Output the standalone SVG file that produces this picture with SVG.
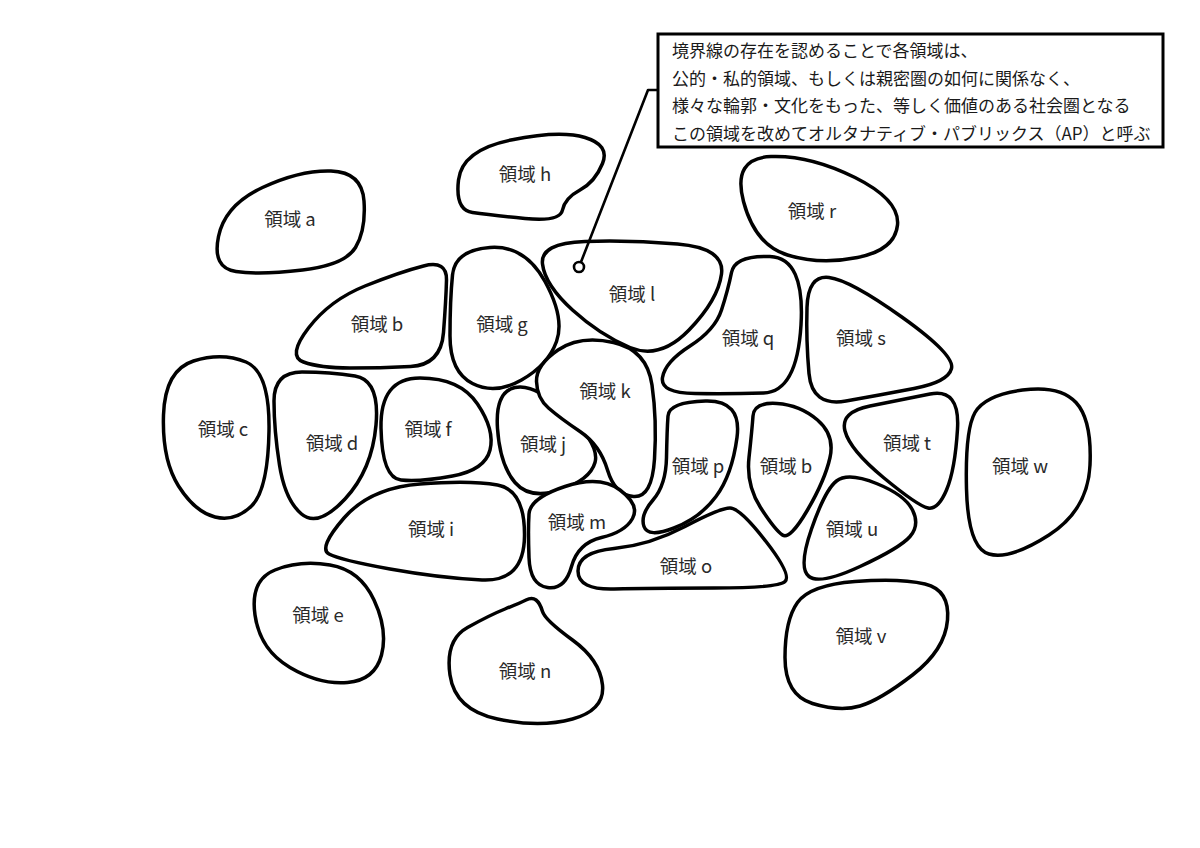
<svg xmlns="http://www.w3.org/2000/svg" width="1200" height="848" viewBox="0 0 1200 848">
<style>
.blob{fill:#fff;stroke:#000;stroke-width:3.5;stroke-linejoin:round}
.lbl{font-family:"Noto Sans CJK JP","Noto Sans",sans-serif;font-size:18.5px;fill:#2a2a2a;text-anchor:middle}
.note{font-family:"Noto Sans CJK JP","Noto Sans",sans-serif;font-size:17px;fill:#1a1a1a}
.conn{fill:none;stroke:#000;stroke-width:2.6;stroke-linejoin:round}
</style>
<rect width="1200" height="848" fill="#fff"/>
<g id="region-a"><path class="blob" d="M 218.5,236.5 Q 225,205 262.5,187.5 Q 300,170 331,171 Q 362,172 364,201 Q 366,230 355.5,247.5 Q 345,265 302.5,270 Q 260,275 236,271.5 Q 212,268 218.5,236.5 Z"/><text class="lbl" x="290" y="226">領域 a</text></g>
<g id="region-h"><path class="blob" d="M 458.5,180 Q 462,150 511,140 Q 560,130 585,137.5 Q 610,145 602.5,163.5 Q 595,182 580,190 Q 565,198 562.5,210 Q 560,222 525,218.5 Q 490,215 472.5,212.5 Q 455,210 458.5,180 Z"/><text class="lbl" x="525" y="181">領域 h</text></g>
<g id="region-r"><path class="blob" d="M 771,156.5 Q 810,155 855,177.5 Q 900,200 897.5,225 Q 895,250 857.5,257.5 Q 820,265 787.5,255 Q 755,245 743.5,201.5 Q 732,158 771,156.5 Z"/><text class="lbl" x="812" y="218">領域 r</text></g>
<g id="region-b1"><path class="blob" d="M 308.5,328 Q 330,300 365,286 Q 400,272 423.5,266 Q 447,260 446.5,280 Q 446,300 443.5,332.5 Q 441,365 410.5,366.5 Q 380,368 350,368 Q 320,368 303.5,362 Q 287,356 308.5,328 Z"/><text class="lbl" x="377" y="331">領域 b</text></g>
<g id="region-g"><path class="blob" d="M 490,247.5 Q 525,245 545,281.5 Q 565,318 556.5,341.5 Q 548,365 521.5,380 Q 495,395 472.5,383.5 Q 450,372 450,336 Q 450,300 452.5,275 Q 455,250 490,247.5 Z"/><text class="lbl" x="502" y="331">領域 g</text></g>
<g id="region-l"><path class="blob" d="M 585,241.5 Q 630,240 677.5,244 Q 725,248 721.5,274 Q 718,300 689,330 Q 660,360 630,347.5 Q 600,335 572.5,310 Q 545,285 542.5,264 Q 540,243 585,241.5 Z"/><text class="lbl" x="632" y="301">領域 l</text></g>
<g id="region-q"><path class="blob" d="M 770,256.5 Q 805,258 801,325 Q 797,392 763.5,393 Q 730,394 695,393.5 Q 660,393 662.5,377.5 Q 665,362 690,346 Q 715,330 721.5,310 Q 728,290 731.5,272.5 Q 735,255 770,256.5 Z"/><text class="lbl" x="748" y="345">領域 q</text></g>
<g id="region-s"><path class="blob" d="M 829,277.5 Q 850,280 902.5,317.5 Q 955,355 951.5,368.5 Q 948,382 914,388.5 Q 880,395 846,401 Q 812,407 809,373.5 Q 806,340 807,307.5 Q 808,275 829,277.5 Z"/><text class="lbl" x="861" y="345">領域 s</text></g>
<g id="region-c"><path class="blob" d="M 193.5,361 Q 222,352 246,362 Q 270,372 269,431 Q 268,490 251.5,506 Q 235,522 215,517 Q 195,512 178.5,486 Q 162,460 163.5,415 Q 165,370 193.5,361 Z"/><text class="lbl" x="223" y="436">領域 c</text></g>
<g id="region-d"><path class="blob" d="M 302,372 Q 330,372 355,376 Q 380,380 376,425 Q 372,470 345,499 Q 318,528 301.5,514 Q 285,500 279.5,465 Q 274,430 274,401 Q 274,372 302,372 Z"/><text class="lbl" x="332" y="450">領域 d</text></g>
<g id="region-f"><path class="blob" d="M 420,378 Q 460,378 477.5,404 Q 495,430 490,450 Q 485,470 452.5,476 Q 420,482 401,480 Q 382,478 381,428 Q 380,378 420,378 Z"/><text class="lbl" x="428" y="436">領域 f</text></g>
<g id="region-i"><path class="blob" d="M 344,518 Q 370,488 420,484 Q 470,480 497.5,485 Q 525,490 524.5,536 Q 524,582 482,580 Q 440,578 390,569 Q 340,560 329,554 Q 318,548 344,518 Z"/><text class="lbl" x="431" y="536">領域 i</text></g>
<g id="region-j"><path class="blob" d="M 515,387.5 Q 535,383 567.5,414 Q 600,445 595,462.5 Q 590,480 560,490 Q 530,500 515,482.5 Q 500,465 497.5,428.5 Q 495,392 515,387.5 Z"/><text class="lbl" x="543" y="451">領域 j</text></g>
<g id="region-k"><path class="blob" d="M 558,350 Q 580,335 613.5,342.5 Q 647,350 652,385 Q 657,420 654.5,459 Q 652,498 633.5,496.5 Q 615,495 607.5,470 Q 600,445 580,431.5 Q 560,418 548.5,408 Q 537,398 536.5,381.5 Q 536,365 558,350 Z"/><text class="lbl" x="605" y="398">領域 k</text></g>
<g id="region-m"><path class="blob" d="M 565,486.5 Q 600,475 620,490 Q 640,505 632.5,518.5 Q 625,532 601.5,537.5 Q 578,543 571.5,566.5 Q 565,590 547.5,587.5 Q 530,585 529,557.5 Q 528,530 529,514 Q 530,498 565,486.5 Z"/><text class="lbl" x="577" y="529">領域 m</text></g>
<g id="region-o"><path class="blob" d="M 614,548.5 Q 650,545 685,526.5 Q 720,508 730,508 Q 740,508 766,541.5 Q 792,575 785,581.5 Q 778,588 714,588 Q 650,588 614,589 Q 578,590 578,571 Q 578,552 614,548.5 Z"/><text class="lbl" x="686" y="573">領域 o</text></g>
<g id="region-p"><path class="blob" d="M 705.5,401 Q 742,400 737,437.5 Q 732,475 716,496.5 Q 700,518 674,528 Q 648,538 644,526.5 Q 640,515 653,500 Q 666,485 666.5,457.5 Q 667,430 668,416 Q 669,402 705.5,401 Z"/><text class="lbl" x="698" y="473">領域 p</text></g>
<g id="region-b2"><path class="blob" d="M 777,403.5 Q 800,405 817.5,420 Q 835,435 830,457.5 Q 825,480 807.5,510 Q 790,540 782.5,535 Q 775,530 760.5,507.5 Q 746,485 749,457.5 Q 752,430 753,416 Q 754,402 777,403.5 Z"/><text class="lbl" x="786" y="473">領域 b</text></g>
<g id="region-t"><path class="blob" d="M 870,406 Q 900,400 930,394 Q 960,388 957.5,429 Q 955,470 946.5,490 Q 938,510 928,508 Q 918,506 884,478 Q 850,450 845,431 Q 840,412 870,406 Z"/><text class="lbl" x="907" y="450">領域 t</text></g>
<g id="region-u"><path class="blob" d="M 876.5,483.5 Q 905,495 912.5,510 Q 920,525 910,536.5 Q 900,548 860,566.5 Q 820,585 809,576.5 Q 798,568 811.5,529 Q 825,490 836.5,481 Q 848,472 876.5,483.5 Z"/><text class="lbl" x="852" y="536">領域 u</text></g>
<g id="region-w"><path class="blob" d="M 1022.5,390 Q 1060,385 1076,402.5 Q 1092,420 1090,465 Q 1088,510 1049,535 Q 1010,560 989,554 Q 968,548 966.5,489 Q 965,430 975,412.5 Q 985,395 1022.5,390 Z"/><text class="lbl" x="1020" y="473">領域 w</text></g>
<g id="region-v"><path class="blob" d="M 855,581.5 Q 900,578 925,584 Q 950,590 947.5,620 Q 945,650 912.5,675 Q 880,700 860,706 Q 840,712 812.5,703.5 Q 785,695 785,657.5 Q 785,620 797.5,602.5 Q 810,585 855,581.5 Z"/><text class="lbl" x="861" y="643">領域 v</text></g>
<g id="region-e"><path class="blob" d="M 275,570 Q 300,560 330,565 Q 360,570 374,600 Q 388,630 381.5,655 Q 375,680 347.5,682.5 Q 320,685 290,667.5 Q 260,650 255,615 Q 250,580 275,570 Z"/><text class="lbl" x="318" y="622">領域 e</text></g>
<g id="region-n"><path class="blob" d="M 526,600 Q 532,597 536,600 Q 540,603 542.5,611.5 Q 545,620 572.5,640 Q 600,660 602.5,685 Q 605,710 572.5,719 Q 540,728 497.5,719 Q 455,710 450,675 Q 445,640 467.5,627.5 Q 490,615 505,609 Q 520,603 526,600 Z"/><text class="lbl" x="525" y="678">領域 n</text></g>
<g id="note">
<rect x="658" y="34" width="505" height="113" fill="#fff" stroke="#000" stroke-width="3"/>
<text class="note" x="672" y="57">境界線の存在を認めることで各領域は、</text>
<text class="note" x="672" y="85">公的・私的領域、もしくは親密圏の如何に関係なく、</text>
<text class="note" x="672" y="112">様々な輪郭・文化をもった、等しく価値のある社会圏となる</text>
<text class="note" x="672" y="140">この領域を改めてオルタナティブ・パブリックス（AP）と呼ぶ</text>
</g>
<g id="connectors">
<path class="conn" d="M 658,90 H 648 L 581,262"/>
<circle cx="579" cy="267" r="5" fill="#fff" stroke="#000" stroke-width="2.6"/>
</g>
</svg>
